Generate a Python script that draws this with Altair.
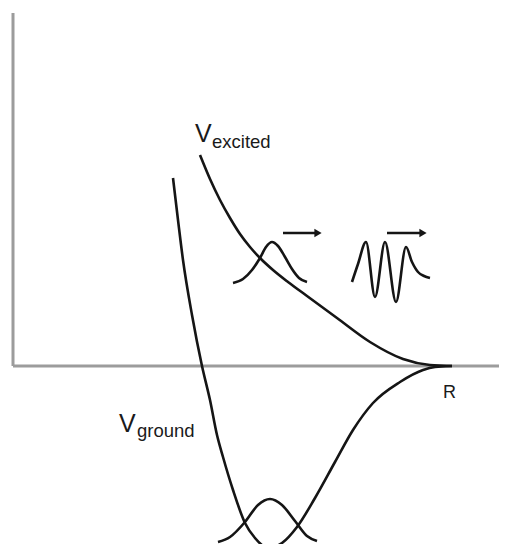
import altair as alt
import pandas as pd

# coordinates: R = distance along the horizontal axis, V = energy (0 on the R axis)
excited_R = [187, 197, 207, 217, 227, 237, 247, 260, 275, 294, 324, 357, 390, 417, 439]
excited_V = [211, 187, 166, 148, 132, 119, 108, 96, 84, 70, 48, 24, 7, 1, 0]

ground_R = [160, 165, 170, 179, 189, 197, 204, 210, 220, 232, 242, 255, 269, 284, 302, 322, 340, 360, 387, 410, 422, 439]
ground_V = [188, 146, 106, 51, 0, -34, -69, -91, -124, -157, -172, -182, -177, -161, -132, -96, -64, -37, -16, -4, -1, 0]

packet_low_R = [205, 217, 232, 245, 257, 269, 282, 294, 304]
packet_low_V = [-176, -171, -156, -139, -133, -139, -155, -170, -175]

packet_up_R = [220, 230, 239, 247, 253, 259, 265, 272, 279, 286, 294]
packet_up_V = [83, 87, 96, 108, 119, 124, 120, 109, 97, 88, 84]

packet_osc_R = [339, 345, 353, 362, 372, 383, 393, 399, 405, 411, 417]
packet_osc_V = [84, 102, 124, 69, 124, 64, 119, 104, 94, 90, 88]

arrow_R = [270, 374]
arrow_R2 = [305, 410]
arrow_V = [133, 133]

labels_big = ["V", "V"]
labels_big_R = [182, 106]
labels_big_V = [224, -66]
labels_sub = ["excited", "ground"]
labels_sub_R = [199, 124]
labels_sub_V = [218, -71]
axis_label = ["R"]
axis_label_R = [430]
axis_label_V = [-32]

rows = []
for name, Rs, Vs in [("excited", excited_R, excited_V), ("ground", ground_R, ground_V),
                     ("low", packet_low_R, packet_low_V), ("up", packet_up_R, packet_up_V),
                     ("osc", packet_osc_R, packet_osc_V)]:
    for i, (r, v) in enumerate(zip(Rs, Vs)):
        rows.append({"series": name, "R": r, "V": v, "order": i})
curves = pd.DataFrame(rows)

xs = alt.Scale(domain=[-5, 486], nice=False, zero=False)
ys = alt.Scale(domain=[-178, 358], nice=False, zero=False)
X = lambda f: alt.X(f, scale=xs, axis=None)
Y = lambda f: alt.Y(f, scale=ys, axis=None)

axes_df = pd.DataFrame({"R": [0, 0], "V": [0, 0], "R2": [0, 494], "V2": [353, 0]})
axes = alt.Chart(axes_df).mark_rule(color="#9c9c9c", strokeWidth=3, strokeCap="butt").encode(
    x=X("R:Q"), y=Y("V:Q"), x2="R2:Q", y2="V2:Q")

lines = alt.Chart(curves).mark_line(interpolate="monotone", color="#151515", strokeWidth=2.6, clip=True).encode(
    x=X("R:Q"), y=Y("V:Q"), detail="series:N", order="order:Q")

arr_df = pd.DataFrame({"R": arrow_R, "R2": arrow_R2, "V": arrow_V})
arr_lines = alt.Chart(arr_df).mark_rule(color="#151515", strokeWidth=2.4).encode(
    x=X("R:Q"), x2="R2:Q", y=Y("V:Q"))
arr_heads = alt.Chart(arr_df).mark_point(shape="triangle-right", filled=True, color="#151515", size=70, opacity=1).encode(
    x=X("R2:Q"), y=Y("V:Q"))

big_df = pd.DataFrame({"t": labels_big, "R": labels_big_R, "V": labels_big_V})
sub_df = pd.DataFrame({"t": labels_sub, "R": labels_sub_R, "V": labels_sub_V})
r_df = pd.DataFrame({"t": axis_label, "R": axis_label_R, "V": axis_label_V})
font = "Liberation Sans"
big = alt.Chart(big_df).mark_text(align="left", baseline="alphabetic", fontSize=25, font=font, color="#1a1a1a").encode(
    x=X("R:Q"), y=Y("V:Q"), text="t:N")
sub = alt.Chart(sub_df).mark_text(align="left", baseline="alphabetic", fontSize=18.5, font=font, color="#1a1a1a").encode(
    x=X("R:Q"), y=Y("V:Q"), text="t:N")
rlab = alt.Chart(r_df).mark_text(align="left", baseline="alphabetic", fontSize=18, font=font, color="#1a1a1a").encode(
    x=X("R:Q"), y=Y("V:Q"), text="t:N")

chart = alt.layer(axes, lines, arr_lines, arr_heads, big, sub, rlab).properties(
    width=491, height=536, padding=0, autosize=alt.AutoSizeParams(type="none")
).configure_view(stroke=None)

chart.save("out.html", embed_options={"renderer": "svg", "actions": False})
